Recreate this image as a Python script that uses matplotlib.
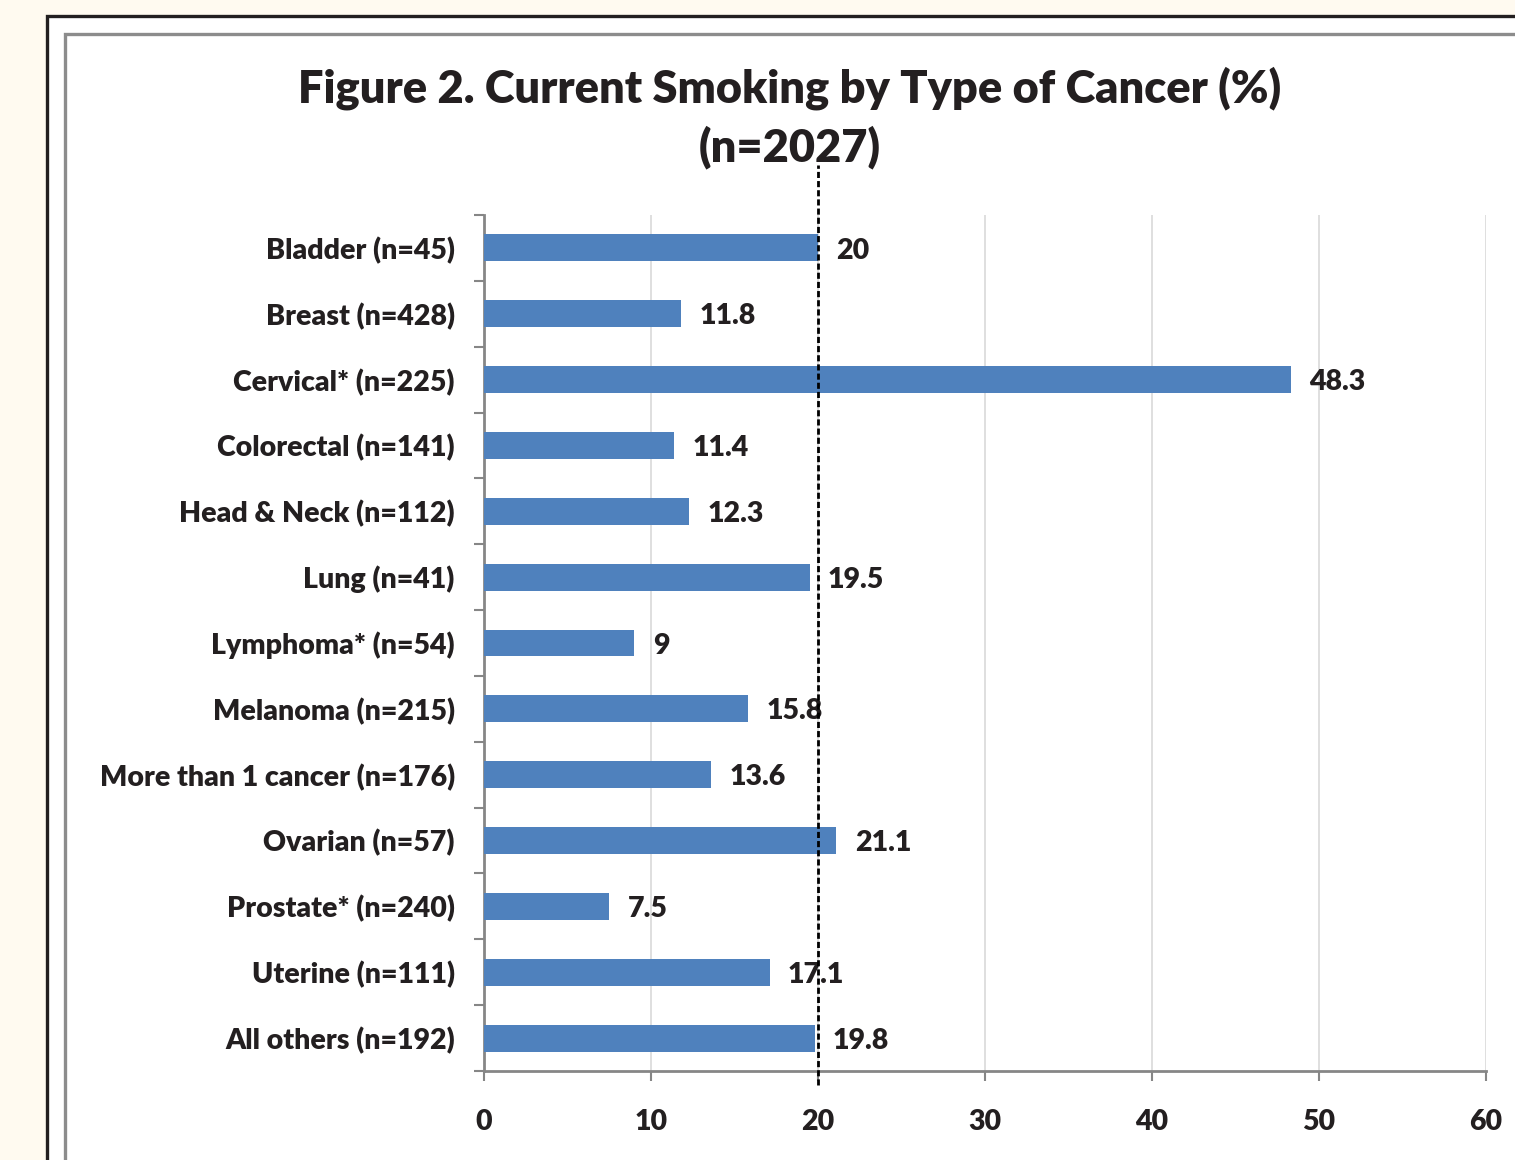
import matplotlib.pyplot as plt
from matplotlib.patches import Rectangle

# dados
categorias = ["Bladder (n=45)", "Breast (n=428)", "Cervical* (n=225)", "Colorectal (n=141)",
              "Head & Neck (n=112)", "Lung (n=41)", "Lymphoma* (n=54)", "Melanoma (n=215)",
              "More than 1 cancer (n=176)", "Ovarian (n=57)", "Prostate* (n=240)",
              "Uterine (n=111)", "All others (n=192)"]
valores = [20, 11.8, 48.3, 11.4, 12.3, 19.5, 9, 15.8, 13.6, 21.1, 7.5, 17.1, 19.8]
rotulos = ["20", "11.8", "48.3", "11.4", "12.3", "19.5", "9", "15.8", "13.6", "21.1", "7.5", "17.1", "19.8"]
media = 20
xticks = [0, 10, 20, 30, 40, 50, 60]

plt.rcParams['font.family'] = ['Lato', 'DejaVu Sans']
peso = 'heavy'
cor_txt = '#231F20'

W, H = 1515, 1160
fig = plt.figure(figsize=(W / 100, H / 100), dpi=100)
fig.patch.set_facecolor('#FFFAF0')

# molduras (em pixels da figura)
def px(x, y):
    return x / W, 1 - y / H

fig.patches.append(Rectangle(px(47, 1200), (1600 - 47) / W, (1200 - 16) / H, transform=fig.transFigure,
                             facecolor='white', edgecolor='#231F20', linewidth=2.4, zorder=0))
fig.patches.append(Rectangle(px(65, 1200), (1600 - 65) / W, (1200 - 34) / H, transform=fig.transFigure,
                             facecolor='white', edgecolor='#8C8C8C', linewidth=2.4, zorder=0))

ax = fig.add_axes([484 / W, 1 - 1071 / H, (1486 - 484) / W, (1071 - 215) / H])
ax.set_facecolor('none')
ax.set_zorder(3)

y = list(range(len(categorias)))
ax.barh(y, valores, height=0.41, color='#4F81BD', zorder=3)
for i, v in enumerate(valores):
    ax.text(v + 1.1, i + 0.04, rotulos[i], va='center', ha='left', fontsize=20.5, fontweight=peso,
            color=cor_txt, zorder=4)

ax.set_xlim(0, 60)
ax.set_ylim(len(categorias) - 0.5, -0.5)
ax.set_xticks(xticks)
ax.set_xticklabels([str(t) for t in xticks], fontsize=20.5, fontweight=peso, color=cor_txt)
ax.set_yticks(y)
ax.set_yticklabels(categorias, fontsize=20.5, fontweight=peso, color=cor_txt)
ax.set_yticks([i - 0.5 for i in range(len(categorias) + 1)], minor=True)
ax.tick_params(axis='y', which='major', length=0, pad=21)
ax.tick_params(axis='y', which='minor', length=7, width=1.5, color='#868686')
ax.tick_params(axis='x', length=7, width=1.5, color='#868686', pad=20)

ax.grid(axis='x', color='#D9D9D9', linewidth=1.2, zorder=0)
for s in ['top', 'right']:
    ax.spines[s].set_visible(False)
for s in ['left', 'bottom']:
    ax.spines[s].set_color('#868686')
    ax.spines[s].set_linewidth(2)

# linha da media
ax.axvline(media, ymin=-0.016, ymax=1.058, color='black', linestyle=(0, (2.2, 1.1)),
           linewidth=2, clip_on=False, zorder=5)

fig.text(790 / W, 1 - 88 / H, "Figure 2. Current Smoking by Type of Cancer (%)",
         ha='center', va='center', fontsize=32.5, fontweight=peso, color=cor_txt)
fig.text(790 / W, 1 - 147 / H, "(n=2027)",
         ha='center', va='center', fontsize=32.5, fontweight=peso, color=cor_txt)

fig.savefig('out.png', dpi=100, facecolor=fig.get_facecolor())
